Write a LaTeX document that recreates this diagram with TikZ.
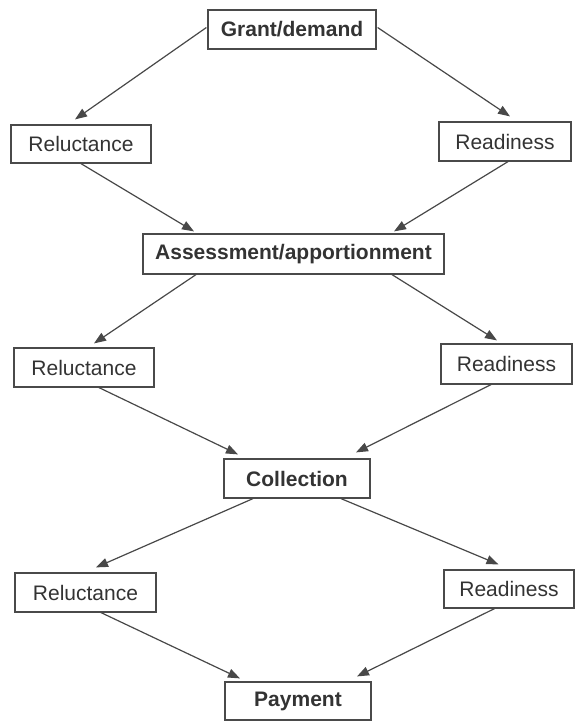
\documentclass[tikz,border=0pt]{standalone}
\usepackage{fontspec}
\setmainfont{Liberation Sans}
\usetikzlibrary{arrows.meta,calc}
\definecolor{ink}{HTML}{333333}
\definecolor{boxline}{HTML}{4A4A4A}
\definecolor{arrowc}{HTML}{484848}
\begin{document}
\begin{tikzpicture}[x=1pt,y=-1pt,
  box/.style={draw=boxline,line width=1.2pt,rectangle,inner sep=0pt,text=ink,
    font=\fontsize{21}{24}\selectfont},
  mainbox/.style={box,font=\fontsize{21}{24}\selectfont\bfseries},
  conn/.style={draw=arrowc,line width=1.2pt,-{Triangle[length=12pt,width=9pt]}}]
\useasboundingbox (0,0) rectangle (575,721);
\node[mainbox,minimum width=168pt,minimum height=39pt] (g) at (292,29.5) {Grant/demand};
\node[box,minimum width=140pt,minimum height=38pt] (r1) at (81,144) {Reluctance};
\node[box,minimum width=132pt,minimum height=39pt] (d1) at (505,141.5) {Readiness};
\node[mainbox,minimum width=301pt,minimum height=40pt] (a) at (293.5,254) {Assessment/apportionment};
\node[box,minimum width=140pt,minimum height=39pt] (r2) at (84,367.5) {Reluctance};
\node[box,minimum width=131pt,minimum height=40pt] (d2) at (506.5,364) {Readiness};
\node[mainbox,minimum width=146pt,minimum height=39pt] (c) at (297,478.5) {Collection};
\node[box,minimum width=141pt,minimum height=39pt] (r3) at (85.5,592.5) {Reluctance};
\node[box,minimum width=130pt,minimum height=38pt] (d3) at (509,589) {Readiness};
\node[mainbox,minimum width=146pt,minimum height=38pt] (p) at (298,701) {Payment};

\draw[conn] ($(g.west)+(-1,-2)$) -- ($(r1.north)+(-6,-5)$);
\draw[conn] ($(g.east)+(1,-2)$) -- ($(d1.north)+(5,-5)$);
\draw[conn] (r1.south) -- ($(a.north)+(-99.5,-2)$);
\draw[conn] ($(d1.south)+(3,0)$) -- ($(a.north)+(100.5,-2)$);
\draw[conn] ($(a.south)+(-97.5,0)$) -- ($(r2.north)+(10,-4)$);
\draw[conn] ($(a.south)+(98.5,0)$) -- ($(d2.north)+(-9.5,-3)$);
\draw[conn] ($(r2.south)+(15,0)$) -- ($(c.north)+(-59,-4)$);
\draw[conn] ($(d2.south)+(-15.5,0)$) -- ($(c.north)+(59,-6)$);
\draw[conn] ($(c.south)+(-44,0)$) -- ($(r3.north)+(10.5,-5)$);
\draw[conn] ($(c.south)+(44,0)$) -- ($(d3.north)+(-10.5,-5)$);
\draw[conn] ($(r3.south)+(15.5,0)$) -- ($(p.north)+(-58,-3)$);
\draw[conn] ($(d3.south)+(-14.5,0)$) -- ($(p.north)+(59,-5)$);
\end{tikzpicture}
\end{document}
